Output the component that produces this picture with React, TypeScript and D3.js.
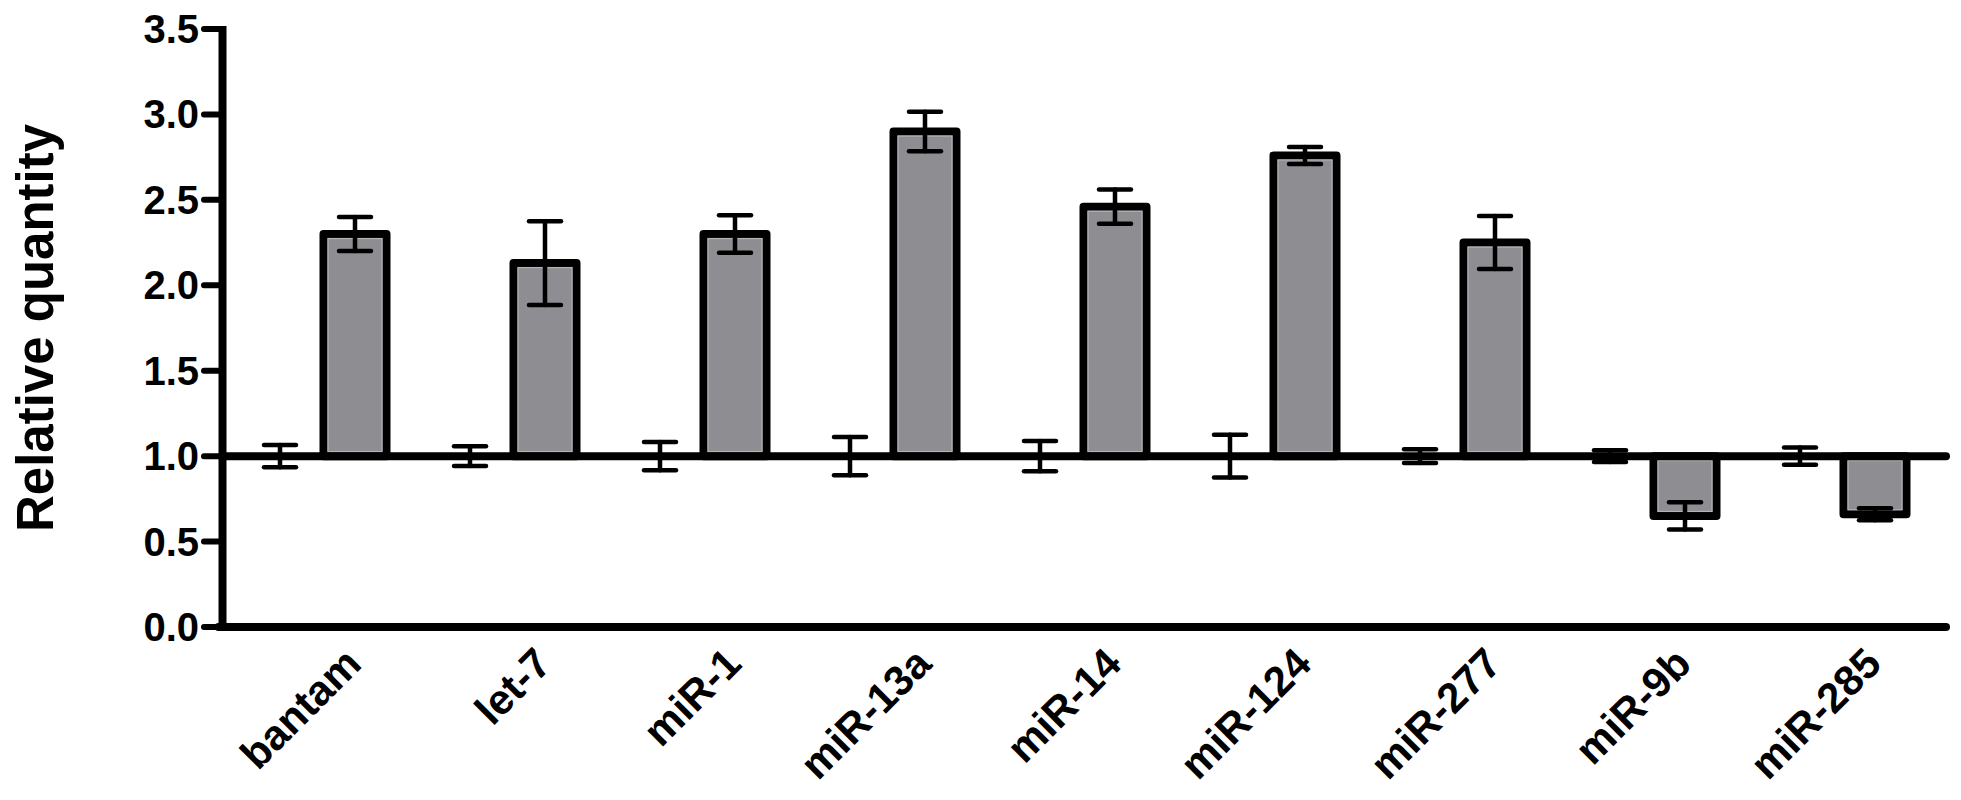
import React from "react";
import * as d3 from "d3";

const categories = ["bantam", "let-7", "miR-1", "miR-13a", "miR-14", "miR-124", "miR-277", "miR-9b", "miR-285"];
const seriesKeys = ["control", "treated"];
const controlMean = [1, 1, 1, 1, 1, 1, 1, 1, 1];
const controlErr = [0.065, 0.058, 0.083, 0.112, 0.089, 0.125, 0.04, 0.035, 0.05];
const treatedMean = [2.3, 2.13, 2.3, 2.9, 2.46, 2.76, 2.25, 0.65, 0.66];
const treatedErr = [0.1, 0.245, 0.11, 0.115, 0.1, 0.05, 0.155, 0.08, 0.035];
const yTicks = [0, 0.5, 1, 1.5, 2, 2.5, 3, 3.5];
const baselineValue = 1;
const yTitle = "Relative quantity";

const W = 1961;
const H = 800;
const FONT = "'Liberation Sans', Arial, Helvetica, sans-serif";
const BAR_FILL = "#8e8d92";
const BAR_EDGE = "#b4b3b7";

export default function App() {
  const y = d3.scaleLinear().domain([0, 3.5]).range([627, 29]);
  const x = d3.scaleBand<string>().domain(categories).range([222.5, 1932.5]).padding(0);
  const sub = d3.scalePoint<string>().domain(seriesKeys).range([-37.5, 37.5]);
  const barW = 63;
  const capHalf = 16;
  const fmt = d3.format(".1f");
  const axisX = 222.5;
  const lineEnd = 1946;

  const rows = categories.map((c, i) => ({
    cat: c,
    center: (x(c) as number) + x.bandwidth() / 2,
    series: [
      { key: "control", mean: controlMean[i], err: controlErr[i], fill: "#ffffff" },
      { key: "treated", mean: treatedMean[i], err: treatedErr[i], fill: BAR_FILL },
    ],
  }));

  return (
    <svg width={W} height={H} style={{ position: "absolute", left: 0, top: 0, background: "#fff" }}>
      {/* bars */}
      {rows.map((r) =>
        r.series.map((s) => {
          const cx = r.center + (sub(s.key) as number);
          const y0 = y(baselineValue);
          const y1 = y(s.mean);
          const top = Math.min(y0, y1);
          const h = Math.abs(y1 - y0);
          if (h < 0.5) return null;
          return (
            <g key={r.cat + s.key}>
              <rect
                x={cx - barW / 2}
                y={top}
                width={barW}
                height={h}
                fill={s.fill}
                stroke="#000"
                strokeWidth={8}
                strokeLinejoin="round"
              />
              <rect
                x={cx - barW / 2 + 4.5}
                y={top + 4.5}
                width={barW - 9}
                height={Math.max(0, h - 9)}
                fill="none"
                stroke={BAR_EDGE}
                strokeWidth={1.2}
              />
            </g>
          );
        })
      )}
      {/* baseline at 1.0 */}
      <line x1={axisX} x2={lineEnd} y1={y(baselineValue)} y2={y(baselineValue)} stroke="#000" strokeWidth={8} strokeLinecap="round" />
      {/* error bars */}
      {rows.map((r) =>
        r.series.map((s) => {
          const cx = r.center + (sub(s.key) as number);
          const yt = y(s.mean + s.err);
          const yb = y(s.mean - s.err);
          return (
            <g key={"e" + r.cat + s.key} stroke="#000" strokeWidth={4.5} strokeLinecap="round">
              <line x1={cx} x2={cx} y1={yt} y2={yb} />
              <line x1={cx - capHalf} x2={cx + capHalf} y1={yt} y2={yt} />
              <line x1={cx - capHalf} x2={cx + capHalf} y1={yb} y2={yb} />
            </g>
          );
        })
      )}
      {/* y axis */}
      <line x1={axisX} x2={axisX} y1={y(3.5) - 3} y2={y(0) + 4} stroke="#000" strokeWidth={8} />
      {yTicks.map((t) => (
        <g key={"t" + t}>
          <line x1={204} x2={axisX} y1={y(t)} y2={y(t)} stroke="#000" strokeWidth={6} strokeLinecap="round" />
          <text
            x={199}
            y={y(t)}
            textAnchor="end"
            dominantBaseline="central"
            fontFamily={FONT}
            fontWeight="bold"
            fontSize={40}
            fill="#000"
          >
            {fmt(t)}
          </text>
        </g>
      ))}
      {/* x axis */}
      <line x1={axisX - 4} x2={lineEnd} y1={y(0)} y2={y(0)} stroke="#000" strokeWidth={8} strokeLinecap="round" />
      {rows.map((r) => (
        <text
          key={"xl" + r.cat}
          transform={`translate(${r.center + 46},${y(0) + 39}) rotate(-45)`}
          textAnchor="end"
          fontFamily={FONT}
          fontWeight="bold"
          fontSize={42}
          fill="#000"
        >
          {r.cat}
        </text>
      ))}
      {/* y title */}
      <text
        transform={`translate(53,${(y(0) + y(3.5)) / 2}) rotate(-90)`}
        textAnchor="middle"
        fontFamily={FONT}
        fontWeight="bold"
        fontSize={51}
        fill="#000"
      >
        {yTitle}
      </text>
    </svg>
  );
}
